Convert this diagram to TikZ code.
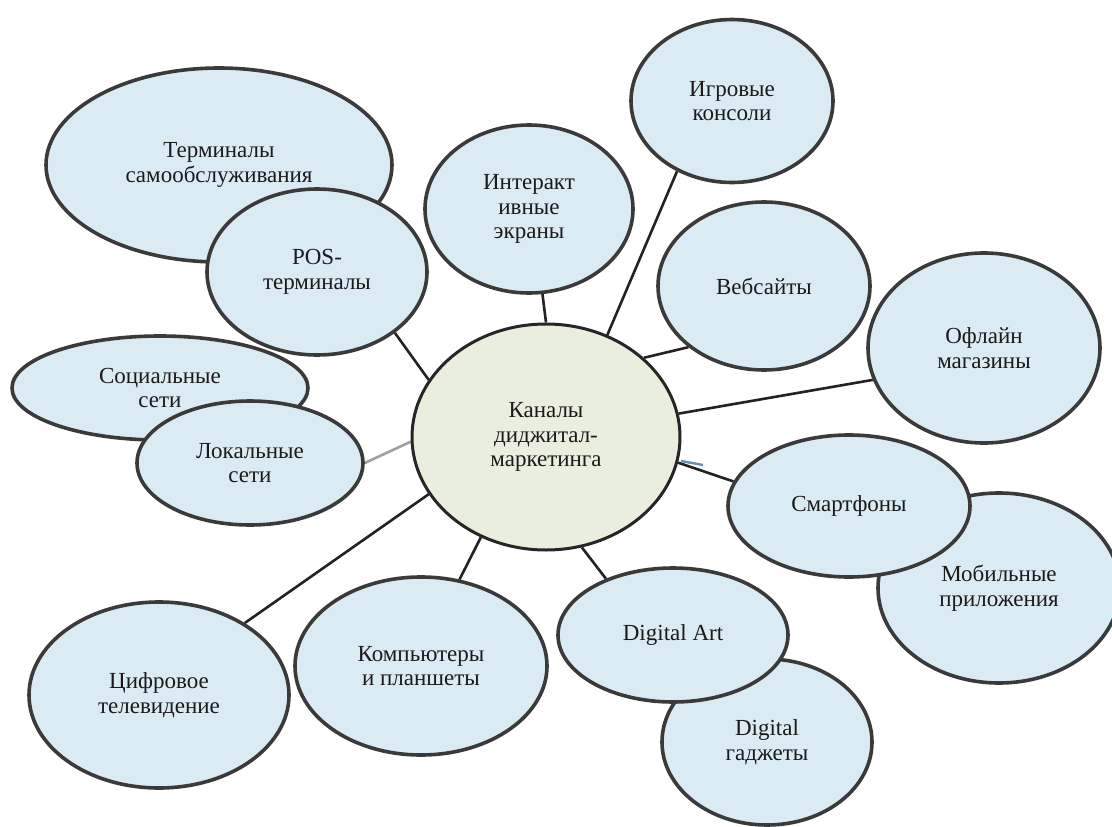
\documentclass[tikz,border=0pt]{standalone}
\usepackage{fontspec}
\setmainfont{Liberation Serif}
\usetikzlibrary{shapes.geometric}
\pgfdeclarelayer{bg}
\pgfsetlayers{bg,main}
\definecolor{bubfill}{RGB}{219,235,243}
\definecolor{cenfill}{RGB}{234,238,222}
\definecolor{outl}{RGB}{58,58,58}
\definecolor{linkc}{RGB}{34,34,34}
\definecolor{txtc}{RGB}{26,26,26}
\definecolor{smudge}{RGB}{110,140,175}
\begin{document}
\begin{tikzpicture}[x=1pt,y=-1pt,
  bub/.style={ellipse, draw=outl, fill=bubfill, line width=3.6pt, inner sep=0pt,
    align=center, text=txtc, font=\fontsize{23}{24.5}\selectfont},
  cenbub/.style={bub, draw=black!85, fill=cenfill, line width=3pt},
  link/.style={draw=linkc, line width=2.6pt},
  glink/.style={draw=gray!75, line width=2.6pt}]
\clip (0,0) rectangle (1112,827);
\path[use as bounding box] (0,0) rectangle (1112,827);

% nodes (drawing order matters for overlaps)
\node[bub, minimum width=346pt, minimum height=194pt] (term) at (219,165) {Терминалы\\самообслуживания};
\node[bub, minimum width=220pt, minimum height=166pt] (pos) at (317,272) {POS-\\терминалы};
\node[bub, minimum width=296pt, minimum height=104pt] (soc) at (160,388) {Социальные\\сети};
\node[bub, minimum width=226pt, minimum height=124pt] (loc) at (250,463) {Локальные\\сети};
\node[cenbub, minimum width=268pt, minimum height=226pt] (cen) at (546,437) {Каналы\\диджитал-\\маркетинга};
\node[bub, minimum width=208pt, minimum height=168pt] (inter) at (529,209) {Интеракт\\ивные\\экраны};
\node[bub, minimum width=202pt, minimum height=163pt] (game) at (732,101) {Игровые\\консоли};
\node[bub, minimum width=212pt, minimum height=168pt] (web) at (764,286) {Вебсайты};
\node[bub, minimum width=232pt, minimum height=190pt] (off) at (984,348) {Офлайн\\магазины};
\node[bub, minimum width=242pt, minimum height=190pt] (mob) at (999,588) {Мобильные\\приложения};
\node[bub, minimum width=242pt, minimum height=142pt] (smart) at (849,506) {Смартфоны};
\node[bub, minimum width=210pt, minimum height=166pt] (gad) at (767,742) {Digital\\гаджеты};
\node[bub, minimum width=230pt, minimum height=134pt] (art) at (673,635) {Digital Art};
\node[bub, minimum width=252pt, minimum height=178pt] (comp) at (421,666) {Компьютеры\\и планшеты};
\node[bub, minimum width=260pt, minimum height=186pt] (tv) at (159,695) {Цифровое\\телевидение};

% connectors behind the bubbles
\begin{pgfonlayer}{bg}
\draw[link] (pos.-38) -- (cen.154);
\draw[link] (inter.-81) -- (cen.90);
\draw[link] (game.-128) -- (cen.59);
\draw[link] (web.-141) -- (cen.39.5);
\draw[link] (off.-164) -- (cen.10);
\draw[link] (smart.168) -- (cen.-11);
\draw[link] (art.140) -- (cen.-72);
\draw[link] (comp.66.5) -- (cen.-123);
\draw[link] (tv.40.6) -- (cen.-154);
\draw[glink] (loc.0.5) -- (cen.-178);
\end{pgfonlayer}
% small blue smudge on the smartphone connector
\draw[smudge, line width=2.4pt] (681,461) -- (703,465);
\end{tikzpicture}
\end{document}
